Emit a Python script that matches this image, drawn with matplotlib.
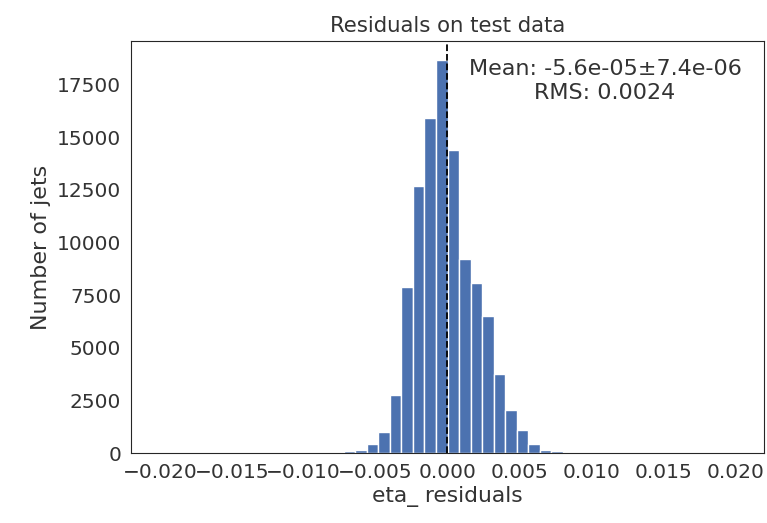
import numpy as np
import matplotlib
matplotlib.use("Agg")
import matplotlib.pyplot as plt
import seaborn as sns

# histogram of eta residuals, 50 bins over [-0.02, 0.02]
bin_lo, bin_hi, n_bins = -0.02, 0.02, 50
# counts for bins 16..34 (all others empty)
first_bin = 16
counts_nonzero = [100, 160, 440, 1020, 2760, 7880, 12660, 15920, 18640,
                  14380, 9230, 8070, 6530, 3760, 2040, 1100, 430, 160, 100]
mean_val = -5.6e-05
mean_err = 7.4e-06
rms_val = 0.0024

sns.set_style("white")

edges = np.linspace(bin_lo, bin_hi, n_bins + 1)
centers = 0.5 * (edges[:-1] + edges[1:])
counts = np.zeros(n_bins)
counts[first_bin:first_bin + len(counts_nonzero)] = counts_nonzero

fig = plt.figure(figsize=(7.67, 5.23), dpi=100)
ax = fig.add_axes([0.1708, 0.1333, 0.8253, 0.7887])

ax.hist(centers, bins=edges, weights=counts, color="#4C72B0",
        edgecolor="white", linewidth=1.0)
ax.axvline(mean_val, color="black", linestyle="--", linewidth=1.3)

ax.set_title("Residuals on test data", fontsize=15.3, color="0.2")
ax.set_xlabel("eta_ residuals", fontsize=15.7, labelpad=3, color="0.2")
ax.set_ylabel("Number of jets", fontsize=16, color="0.2")
ax.tick_params(labelsize=14.5, labelcolor="0.2")
ax.set_xticks(np.arange(-0.02, 0.0201, 0.005))

ax.text(0.749, 0.957, f"Mean: {mean_val:.2g}\u00b1{mean_err:.2g}\nRMS: {rms_val:.2g}",
        transform=ax.transAxes, ha="center", va="top", fontsize=16,
        color="0.2", linespacing=1.25)

fig.savefig("out.png", dpi=100)
